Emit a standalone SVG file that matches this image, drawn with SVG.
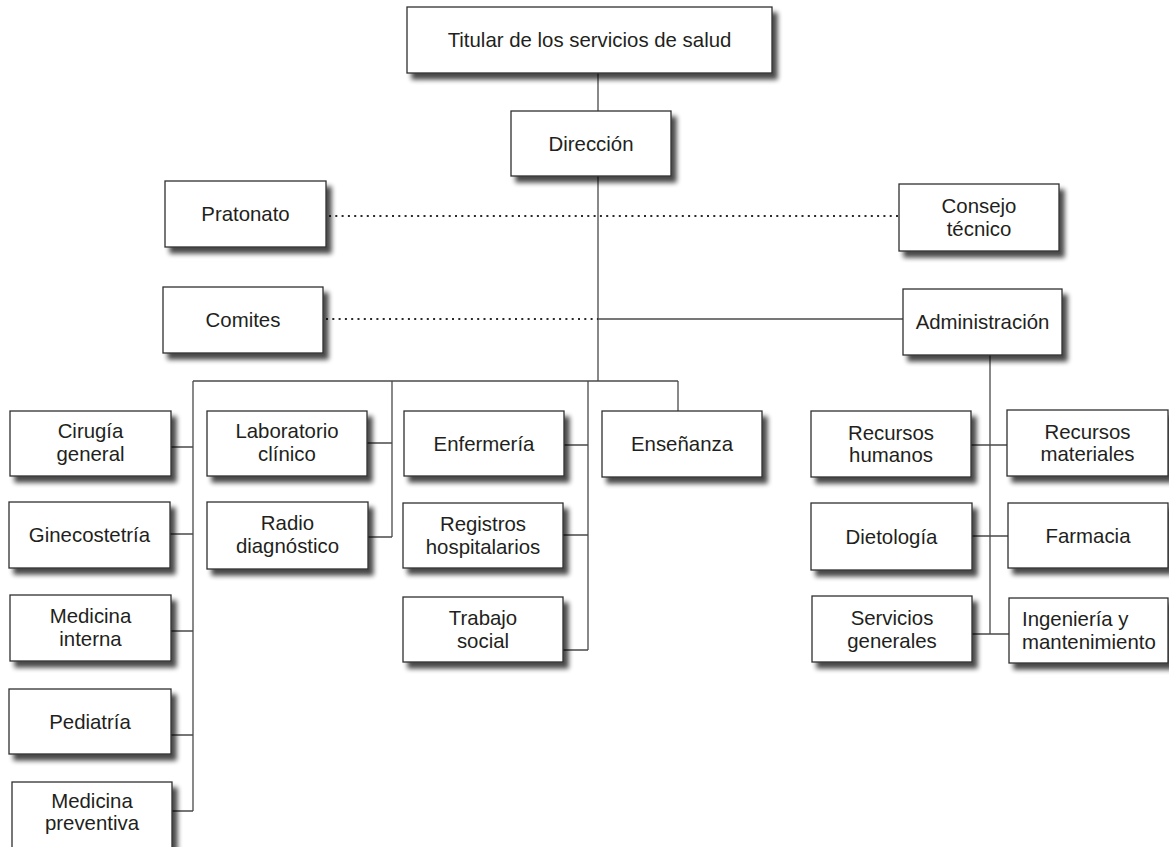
<svg xmlns="http://www.w3.org/2000/svg" width="1169" height="847" viewBox="0 0 1169 847">
  <style>
    .box { fill: #ffffff; stroke: #2e2e2e; stroke-width: 1.3; filter: url(#shadow); }
    .lbl { font-family: "Liberation Sans", Arial, sans-serif; font-size: 20.4px; fill: #231f20; text-anchor: middle; }
    .lft { text-anchor: start; }
    .wire { fill: none; stroke: #4a4a4a; stroke-width: 1.3; }
    .dots { fill: none; stroke: #2a2a2a; stroke-width: 2; stroke-dasharray: 2 4.3; }
  </style>
  <defs>
    <filter id="shadow" x="-10%" y="-20%" width="130%" height="160%">
      <feGaussianBlur in="SourceAlpha" stdDeviation="2.8" result="b"/>
      <feOffset in="b" dx="5" dy="6" result="o"/>
      <feComponentTransfer in="o" result="s">
        <feFuncA type="linear" slope="0.72"/>
      </feComponentTransfer>
      <feMerge>
        <feMergeNode in="s"/>
        <feMergeNode in="SourceGraphic"/>
      </feMerge>
    </filter>
  </defs>
  <rect width="1169" height="847" fill="#ffffff"/>

  <!-- connectors -->
  <g id="connectors">
    <path class="wire" d="M598,73 V111 M598,176 V381"/>
    <path class="wire" d="M193,381 H678"/>
    <path class="wire" d="M193,381 V811 M171,447 H193 M170,534 H193 M171,631 H193 M171,735 H193 M172,811 H193"/>
    <path class="wire" d="M392,381 V537 M367,443 H392 M368,537 H392"/>
    <path class="wire" d="M588,381 V650 M564,445 H588 M563,535 H588 M563,650 H588"/>
    <path class="wire" d="M678,381 V411"/>
    <path class="wire" d="M598,319 H903"/>
    <path class="wire" d="M990,355 V634 M971,445 H1007 M972,536 H1008 M972,634 H1009"/>
    <path class="dots" d="M329,216 H899"/>
    <path class="dots" d="M326,319 H598"/>
  </g>

  <g id="titular">
    <rect class="box" x="407" y="7" width="365" height="66"/>
    <text class="lbl" x="589.5" y="47">Titular de los servicios de salud</text>
  </g>
  <g id="direccion">
    <rect class="box" x="511" y="111" width="160" height="65"/>
    <text class="lbl" x="591" y="150.5">Dirección</text>
  </g>
  <g id="pratonato">
    <rect class="box" x="165" y="181" width="161" height="66"/>
    <text class="lbl" x="245.5" y="221">Pratonato</text>
  </g>
  <g id="comites">
    <rect class="box" x="163" y="287" width="160" height="66"/>
    <text class="lbl" x="243" y="327">Comites</text>
  </g>
  <g id="consejo-tecnico">
    <rect class="box" x="899" y="184" width="160" height="67"/>
    <text class="lbl" x="979" y="213">Consejo<tspan x="979" dy="22.5">técnico</tspan></text>
  </g>
  <g id="administracion">
    <rect class="box" x="903" y="289" width="159" height="66"/>
    <text class="lbl" x="982.5" y="329">Administración</text>
  </g>

  <g id="cirugia-general">
    <rect class="box" x="10" y="411" width="161" height="65"/>
    <text class="lbl" x="90.5" y="438">Cirugía<tspan x="90.5" dy="22.5">general</tspan></text>
  </g>
  <g id="ginecostetria">
    <rect class="box" x="9" y="502" width="161" height="66"/>
    <text class="lbl" x="89.5" y="542">Ginecostetría</text>
  </g>
  <g id="medicina-interna">
    <rect class="box" x="10" y="595" width="161" height="66"/>
    <text class="lbl" x="90.5" y="623">Medicina<tspan x="90.5" dy="22.5">interna</tspan></text>
  </g>
  <g id="pediatria">
    <rect class="box" x="9" y="689" width="162" height="65"/>
    <text class="lbl" x="90" y="728.5">Pediatría</text>
  </g>
  <g id="medicina-preventiva">
    <rect class="box" x="12" y="782" width="160" height="66"/>
    <text class="lbl" x="92" y="807.5">Medicina<tspan x="92" dy="22.5">preventiva</tspan></text>
  </g>

  <g id="laboratorio-clinico">
    <rect class="box" x="207" y="411" width="160" height="65"/>
    <text class="lbl" x="287" y="438">Laboratorio<tspan x="287" dy="22.5">clínico</tspan></text>
  </g>
  <g id="radio-diagnostico">
    <rect class="box" x="207" y="502" width="161" height="67"/>
    <text class="lbl" x="287.5" y="530">Radio<tspan x="287.5" dy="22.5">diagnóstico</tspan></text>
  </g>

  <g id="enfermeria">
    <rect class="box" x="404" y="411" width="160" height="65"/>
    <text class="lbl" x="484" y="450.5">Enfermería</text>
  </g>
  <g id="registros-hospitalarios">
    <rect class="box" x="403" y="503" width="160" height="65"/>
    <text class="lbl" x="483" y="531">Registros<tspan x="483" dy="22.5">hospitalarios</tspan></text>
  </g>
  <g id="trabajo-social">
    <rect class="box" x="403" y="597" width="160" height="65"/>
    <text class="lbl" x="483" y="625">Trabajo<tspan x="483" dy="22.5">social</tspan></text>
  </g>
  <g id="ensenanza">
    <rect class="box" x="602" y="411" width="160" height="66"/>
    <text class="lbl" x="682" y="451">Enseñanza</text>
  </g>

  <g id="recursos-humanos">
    <rect class="box" x="811" y="411" width="160" height="66"/>
    <text class="lbl" x="891" y="439.5">Recursos<tspan x="891" dy="22.5">humanos</tspan></text>
  </g>
  <g id="recursos-materiales">
    <rect class="box" x="1007" y="410" width="161" height="66"/>
    <text class="lbl" x="1087.5" y="438.5">Recursos<tspan x="1087.5" dy="22.5">materiales</tspan></text>
  </g>
  <g id="dietologia">
    <rect class="box" x="811" y="503" width="161" height="67"/>
    <text class="lbl" x="891.5" y="543.5">Dietología</text>
  </g>
  <g id="farmacia">
    <rect class="box" x="1008" y="503" width="160" height="65"/>
    <text class="lbl" x="1088" y="542.5">Farmacia</text>
  </g>
  <g id="servicios-generales">
    <rect class="box" x="812" y="596" width="160" height="66"/>
    <text class="lbl" x="892" y="625">Servicios<tspan x="892" dy="22.5">generales</tspan></text>
  </g>
  <g id="ingenieria-mantenimiento">
    <rect class="box" x="1009" y="598" width="159" height="65"/>
    <text class="lbl lft" x="1022" y="626">Ingeniería y<tspan x="1022" dy="22.5">mantenimiento</tspan></text>
  </g>
</svg>
